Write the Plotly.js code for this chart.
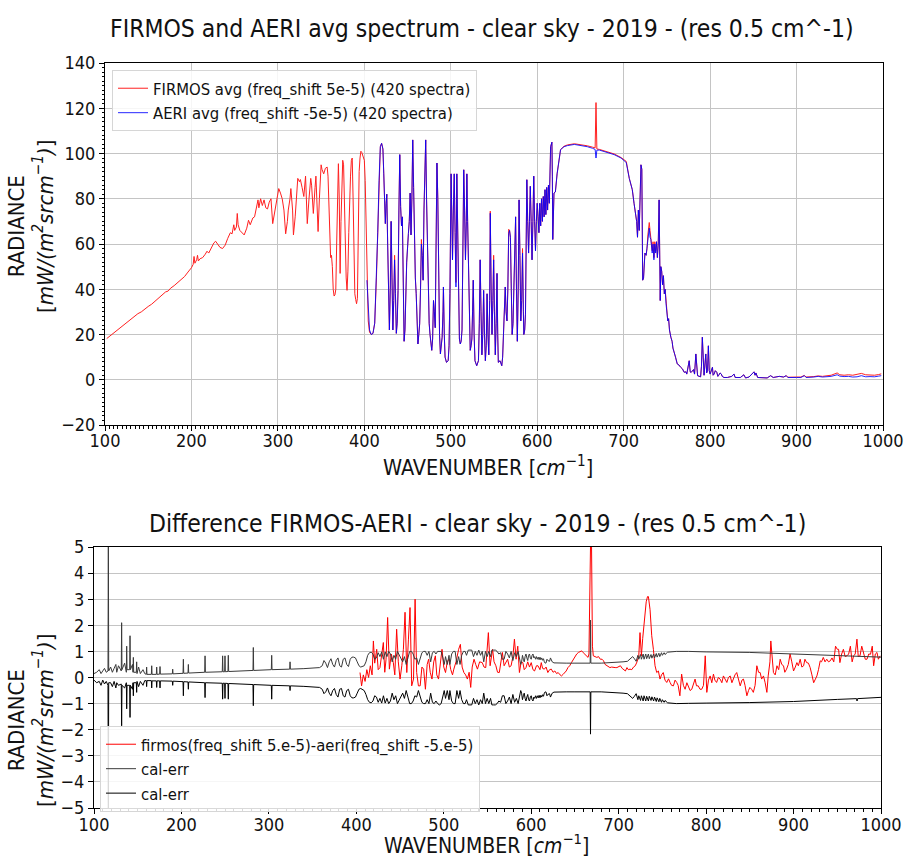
<!DOCTYPE html>
<html>
<head>
<meta charset="utf-8">
<script src="https://cdn.plot.ly/plotly-3.0.1.min.js"></script>
<style>
html,body{margin:0;padding:0;background:#fff;}
#chart{width:907px;height:860px;}
</style>
</head>
<body>
<div id="chart"></div>
<script>
// ---------- Top panel: FIRMOS 100-402 cm-1 ----------
const wnFirmosLow = [102,108,113,118,122,126,130,134,138,142,
146,150,154,158,162,166,170,173,176,180,
184,188,192,196,200,202,203,204,206,207,
208,210,213,216,218,220,223,226,228,230,
233,236,239,242,245,247,249,250,252,253,
254,256,258,261,264,266,268,271,273,275,
277,278,280,282,284,286,288,290,292,294,
296,298,300,301,303,305,307,309,311,312,
314,315,317,318,320,322,323,325,326,328,
330,332,333,334,336,338,339,341,343,344,
345,346.5,348,350,351,353,355,357,358,359,
360,361,362,363,364,365,366,367,368,369,
370,371,372,373,374,375,376,377,378,379,
380,381,382,383,384,385,386,387,388,389,
390,391,392,393,394,395,396,397,398,400,
401,402];
const radFirmosLow = [18.2,20.0,21.5,23.0,24.6,25.5,26.8,28.0,29.2,30.0,
31.3,32.4,33.4,34.8,36.0,37.4,38.8,39.2,40.5,41.6,
42.8,44.2,45.6,47.6,49.5,51.0,54.5,51.5,53.0,55.0,
52.5,53.5,54.0,55.5,56.8,56.0,58.5,60.5,61.2,60.0,
58.5,58.0,59.5,62.5,65.0,64.5,68.5,66.0,67.5,73.5,
68.5,66.0,65.0,64.0,67.0,70.5,68.5,71.5,72.0,76.0,
79.5,76.0,80.0,77.0,79.5,76.0,75.5,78.5,80.0,69.0,
74.0,79.0,82.0,84.5,82.5,80.0,75.0,64.5,70.0,75.0,
80.0,84.5,75.0,64.0,72.0,82.0,89.0,87.5,88.5,85.0,
81.0,90.0,80.0,69.0,80.0,89.0,86.0,73.5,85.0,90.0,
80.0,65.5,80.0,95.0,93.0,91.0,93.5,94.0,90.0,75.0,
60.0,54.0,55.0,50.0,40.0,37.0,37.5,40.0,60.0,85.0,
95.5,80.0,47.0,70.0,92.0,97.0,95.0,75.0,57.0,45.0,
39.5,48.0,65.0,81.0,90.0,97.0,98.0,80.0,45.5,38.0,
35.5,33.6,36.0,80.0,92.0,98.0,101.0,100.5,99.0,97.0,
88.0,67.7];

// ---------- Top panel: common wavenumbers 403-998 cm-1 ----------
const wnHigh = [403,404.5,406,408,410,412,414,415.5,417,418.5,
420,421.5,422.5,423.5,424.3,425.2,426,427,428,429,
430,431,432,433,434,435,436,437,438,439,
440,441,442,443,444,445,446,447,448,449,
451,452,453,454,455,456,457,458,459,460,
461,462,463,464,465,466,467,468,469,470,
471,472,473,474,475,476,477,478,479,480,
481,482,483,484,485,486,487,488,489,490,
491,491.5,492.5,493.4,495,497,498,499,500.4,501,
502,503,504,505,506,507,508,509,510,511,
512,513,514,515,516,517,518,518.6,519.5,520.5,
521.5,522.5,523.5,524.4,525.2,526,527,528,530,532,
533,534,535,536,537,538,539,540,541,542,
543,544,545,545.7,546.7,547.7,548.7,549.6,550.5,551.5,
552.5,553.5,554.3,555,557,559,560,561,562,563,
564,565,566,567,568,569,570,571,572,573,
574,575,576,577,578,579,580,581,582,583,
584,584.5,585.5,586.4,587.2,588,589,590,591,592,
593,594,595,596,597,598,599,600,601,602,
603,604,605,606,607,608,609,610,611,612,
613,614,615.5,617,617.5,618,619.4,621,623,625,
627,631,635,643,650,658,664,667,668,669,
672,681,689,697,703,706.5,710,712,714,715,
716,717,718,719,720,721,722,723,724.6,726,
727,728,729.6,730.5,731.5,733,734,735,736,737,
738,739,740,741,742.3,743,744,745,746,747,
748,749,750,751,752,753,754.6,756,757,758.5,
760,762,764,766,768,770,772,773,774,775.8,
777,778,780.8,782,783.5,784.5,785.5,789,790,791,
792,793,795,796,797,798,799,800,802.7,803.5,
804.6,806,807.7,809,810,811.5,813,814,816,820,
825,827.7,829,835,839,841,845,849,850.8,852,
853,855,860,866,870,873,880,885,888,890,
900,905,909,911,920,925,930,940,947,950,
955,960,965,970,975,980,985,990,995,998];

const radAeri = [44,30,22,20,20.5,25,45,65,88,103,
104.5,102,91,80,69,78,82,60,35,22,
40,70,45,22,35,53,38,20.5,25,39.5,
75,99.5,76.5,68,72,45,17,22,38,52,
64.7,70,82.5,64,80,106,85,56,45,38,
20,15.8,20,24.7,40,60,55,44,75,100,
106,79.5,55,35,25,20,15,13,18,35,
30,23,60,95.8,80,42.5,20,11.4,14,18.8,
30,41,20,10,7.7,8.4,15,38,91,70,
53,75,91,65,41,91,60,29,18,15.8,
17,22,60,92.8,75,53,70,91,70,45.5,
25,13,15,18,30,44,20,8.4,6.2,8.4,
25,53,30,11,20,39.5,20,8.4,15,38,
20,11,35,73.6,40,20,35,53,30,11,
25,47,20,7.7,8.4,6.2,10,20,30,41,
30,26,40,64.7,66,63,40,20,25,41,
55,72,40,17,40,79.5,55,26,35,56,
30,20,22,29,60,88.4,70,56,70,85.5,
70,53,70,90,70,57,70,78,72,65,
78,68,80,70,81,72,84,73,85,75,
86,78,103,105,90,62,82.5,83,91,97,
101.7,103,103.5,104,103.6,103,102.3,101.8,98,101.5,
101.5,100.5,99.5,98,96,89,84,78,73.6,70,
63,75,66,85,95,93,44,45,56,55,
58,62,67,63,62,56,60,53,60,56,
61,54,60,79.5,35,50,48,42,46,38,
40,33.6,30,26,27,22,18.8,17,14,11.4,
10,7,6.5,5.5,4.8,3.3,3.5,2.5,4.5,8.4,
3.5,3.2,4.5,2.5,11.4,3.5,1.8,1.3,6,18.8,
5,2,11.4,3,4,15,4,2.5,5.5,2,
2.5,4,3.3,1.5,2,3,2.5,1.5,1,1,
1.5,2.5,1,1,2.2,0.8,1.2,2.8,3.5,2,
3,1,1,0.8,1.8,1,1.5,1.2,1.8,1,
1,1,1.8,1,1.2,1.5,1.2,1.5,2.2,1.6,
1.4,1.5,1.2,1.3,1.8,1.3,1.4,1.3,1.6,1.8];

const radFirmosHigh = [40,26,21,20,20.5,25,45,65,88,103,
104.5,102,91,80,69,78,82,60,35,22,
40,70,45,22,35,55,38,20.5,25,39.5,
75,99.5,76.5,68,72,45,17,22,38,52,
64.7,70,82.5,64,80,106,85,57,45,38,
20,15.8,20,24.7,40,62,55,44,75,100,
106,79.5,55,35,25,20,15,13,18,35,
30,23,60,95.8,80,42.5,20,11.4,14,18.8,
30,41,20,10,7.7,8.4,15,38,91,70,
53,75,91,65,43,91,60,29,18,15.8,
17,22,60,92.8,75,53,70,91,70,45.5,
25,13,15,18,30,44,20,8.4,6.2,8.4,
25,53,30,11,20,39.5,20,8.4,15,38,
20,11,35,74.5,40,20,35,55,30,11,
25,47,20,7.7,8.4,6.2,10,20,30,41,
30,26,40,66.5,66,63,40,20,25,41,
55,72,40,17,40,79.5,55,26,35,58,
30,20,22,29,60,88.4,70,56,70,85.5,
70,53,70,90,70,57,70,78,72,65,
78,68,80,70,81,72,84,73,85,75,
86,78,103,105,90,62,82.5,83,91,97,
101.7,103.2,103.8,104.3,104,103.4,102.8,102.5,122.5,102,
101.8,100.8,99.8,98.2,96.5,89,84,78,73.6,70,
63,75,66,85,95,93,44,45,56,55,
58,64,69.5,66,63,57,61,54,61,57,
61,54,60,79.5,35,50,48,42,46,38,
40,33.6,30,26,27,22,18.8,17,14,11.4,
10,7,6.5,5.5,4.8,3.3,3.5,2.5,4.5,8.4,
3.5,3.2,4.5,2.5,11.4,3.5,1.8,1.3,6,18.8,
5,2,11.4,3,4,15,4,2.5,5.5,2,
2.5,4,3.3,1.5,2,3,2.5,1.5,1,1,
1.5,2.5,1,1,2.2,0.8,1.2,2.8,3.5,2,
3,1,1,0.8,1.8,1,1.5,1.2,1.8,1.1,
1.2,1.2,1.9,1.2,1.4,1.7,1.5,2.0,3.0,2.2,
2.0,2.2,2.0,2.5,2.8,2.2,2.0,2.0,2.3,2.6];

// ---------- Bottom panel: calibration error envelope (upper / lower) ----------
const wnCal = [100,103,106,108,110,112,114,116,116.4,116.8,
119,121,123,125,126,128,131.2,131.6,132,135,
137,137.4,137.8,140.8,141.2,141.6,144,144.6,145,145.4,
148.4,148.8,149.2,151,153,156,158,159.8,160.2,160.6,
165.6,166,166.4,171.3,171.7,172.1,175.1,175.5,175.9,189.6,
190,190.4,201.8,202.2,202.6,207.5,207.9,208.3,226.6,227,
227.4,246.7,247.1,247.5,249.4,249.8,250.2,253.2,253.6,254,
281.8,282.2,282.6,302.8,303.2,303.6,323.8,324.2,324.6,340,
350,358,361,363,365,367,369,371,373,375,377,
379,381,383,385,387,389,391,393,395,397,
399,401,403,405,407,409,411,413,415,417,
419,421,423,425,427,429,431,433,435,437,
439,441,443,445,447,449,451,453,455,457,
459,461,463,465,467,469,471,473,475,477,
479,481,483,485,487,489,491,493,495,497,
499,500.5,502,504,506,507,509,511,513,515,
517,518.6,520.5,522.5,524.4,526,528,530,532,534,
536,538,540,542,544,545.7,547.7,549.6,551.5,553.5,
555,557,559,561,563,565,567,569,571,573,
575,577,579,581,583,585,587,588,589,590,
591,592,593,594,595,596,597,598,599,600,
601,602,603,604,605,606,607,608,609,610,
611,612,613,614,615,616,617,618,619,620,
621,622,624,626,630,640,650,660,667.4,667.8,
668.2,680,690,700,705,710,713,716,718,720,
722,723,725,726,728,729,731,732,734,735,
737,738,740,741,743,744,746,747,749,750,
752,753,756,760,766,780,790,800,850,900,
950,972,972.6,973.2,1000];

const calErrUp = [0.15,0.2,0.3,0.15,0.25,0.35,0.2,0.25,5.6,0.25,
0.4,0.2,0.35,0.5,0.2,0.45,0.25,2.1,0.3,0.55,
0.2,1.2,0.3,0.3,1.6,0.3,0.5,0.2,0.77,0.2,
0.2,0.6,0.15,0.4,0.15,0.3,0.15,0.12,0.4,0.12,
0.12,0.45,0.12,0.12,0.4,0.12,0.13,0.42,0.13,0.14,
0.32,0.14,0.16,0.7,0.16,0.17,0.5,0.17,0.2,0.83,
0.2,0.22,0.83,0.22,0.22,0.83,0.22,0.23,0.85,0.23,
0.27,1.15,0.27,0.3,0.85,0.3,0.32,0.6,0.32,0.34,
0.36,0.38,0.45,0.65,0.55,0.38,0.6,0.72,0.5,0.4,0.65,
0.75,0.45,0.4,0.7,0.75,0.5,0.42,0.7,0.78,0.78,
0.75,0.6,0.45,0.4,0.42,0.45,0.6,0.85,0.95,0.97,
0.9,0.7,0.75,0.95,0.8,0.98,0.7,0.98,0.8,1.0,
0.9,0.6,0.85,0.7,1.0,0.85,0.75,0.6,0.8,0.5,
0.75,1.0,1.0,0.9,0.7,0.75,0.5,0.7,0.95,1.0,
1.0,0.85,1.0,0.6,0.95,1.0,0.9,1.0,1.0,1.0,
0.75,0.5,0.8,0.5,0.85,0.5,0.9,1.0,1.0,0.5,
0.8,0.5,0.85,1.0,1.0,0.85,1.05,1.05,1.05,0.8,
1.0,0.85,1.05,0.85,1.0,0.6,1.0,0.8,1.0,0.8,
1.05,1.05,1.05,1.0,0.9,0.95,0.7,0.7,1.0,0.9,
0.75,1.0,0.65,0.95,0.8,1.0,0.7,0.5,0.6,0.85,
0.7,0.6,0.8,0.9,0.75,0.65,0.85,0.9,0.75,0.7,
0.85,0.9,0.75,0.8,0.7,0.8,0.7,0.78,0.68,0.78,
0.68,0.75,0.66,0.72,0.6,0.55,0.56,0.7,0.65,0.62,
0.62,0.75,0.6,0.56,0.55,0.55,0.55,0.55,0.55,2.2,
0.55,0.55,0.56,0.58,0.6,0.62,0.7,0.8,0.72,0.62,
0.85,0.7,0.88,0.7,0.9,0.7,0.9,0.72,0.9,0.72,
0.88,0.74,0.9,0.75,0.92,0.78,0.93,0.8,0.95,0.85,
0.95,0.88,0.97,0.98,1.0,1.0,0.99,0.98,0.96,0.9,
0.84,0.81,0.81,0.81,0.78];

const calErrLow = [-0.1,-0.2,-0.15,-0.3,-0.1,-0.25,-0.15,-0.3,-5.6,-0.2,
-0.2,-0.35,-0.15,-0.4,-0.2,-0.3,-0.25,-1.85,-0.3,-0.4,
-0.2,-1.2,-0.3,-0.3,-1.53,-0.3,-0.45,-0.2,-0.7,-0.2,
-0.2,-0.57,-0.15,-0.35,-0.15,-0.3,-0.12,-0.12,-0.35,-0.12,
-0.12,-0.4,-0.13,-0.13,-0.38,-0.13,-0.13,-0.4,-0.13,-0.14,
-0.3,-0.14,-0.16,-0.7,-0.16,-0.17,-0.45,-0.17,-0.2,-0.77,
-0.2,-0.22,-0.83,-0.22,-0.22,-0.8,-0.22,-0.23,-0.83,-0.23,
-0.27,-1.08,-0.27,-0.3,-0.83,-0.3,-0.32,-0.5,-0.32,-0.34,
-0.36,-0.38,-0.45,-0.62,-0.55,-0.4,-0.6,-0.7,-0.5,-0.42,-0.65,
-0.75,-0.45,-0.42,-0.7,-0.75,-0.5,-0.45,-0.7,-0.78,-0.78,
-0.75,-0.6,-0.45,-0.42,-0.45,-0.5,-0.65,-0.85,-0.95,-0.97,
-0.9,-0.7,-0.75,-0.95,-0.8,-0.98,-0.7,-0.98,-0.8,-1.0,
-0.9,-0.6,-0.85,-0.7,-1.0,-0.85,-0.75,-0.6,-0.8,-0.5,
-0.75,-1.0,-1.0,-0.9,-0.7,-0.75,-0.5,-0.7,-0.95,-1.0,
-1.0,-0.85,-1.0,-0.6,-0.95,-1.0,-0.9,-1.0,-1.05,-1.0,
-0.75,-0.5,-0.8,-0.5,-0.85,-0.5,-0.9,-1.0,-1.0,-0.5,
-0.8,-0.5,-0.85,-1.0,-1.0,-0.85,-1.05,-1.05,-1.05,-0.8,
-1.0,-0.85,-1.05,-0.85,-1.0,-0.6,-1.0,-0.8,-1.0,-0.8,
-1.05,-1.05,-1.05,-1.0,-0.9,-0.95,-0.7,-0.7,-1.0,-0.9,
-0.75,-1.0,-0.65,-0.95,-0.8,-1.0,-0.7,-0.5,-0.6,-0.85,
-0.7,-0.6,-0.8,-0.9,-0.75,-0.65,-0.85,-0.9,-0.75,-0.7,
-0.85,-0.9,-0.75,-0.8,-0.7,-0.8,-0.7,-0.78,-0.68,-0.78,
-0.68,-0.75,-0.66,-0.72,-0.6,-0.55,-0.56,-0.7,-0.65,-0.62,
-0.62,-0.75,-0.6,-0.56,-0.55,-0.55,-0.55,-0.55,-0.55,-2.17,
-0.55,-0.55,-0.56,-0.58,-0.6,-0.62,-0.72,-0.8,-0.72,-0.62,
-0.85,-0.7,-0.88,-0.7,-0.9,-0.7,-0.9,-0.72,-0.9,-0.72,
-0.88,-0.74,-0.9,-0.75,-0.92,-0.78,-0.93,-0.8,-0.95,-0.85,
-0.95,-0.88,-0.97,-0.98,-1.0,-0.99,-0.98,-0.98,-0.96,-0.92,
-0.84,-0.81,-0.9,-0.81,-0.76];

// ---------- Bottom panel: FIRMOS - AERI difference ----------
const wnDiff = [404.2,406,408,410,412,414,416,418,419.5,421,
423.3,425,427,429,430.9,432.5,434,435.8,437.8,440,
442.3,444,446.1,448,450,452,453.8,455.7,457.7,459.6,
461.4,463.3,465.4,467.2,469,471,473,475,477,479,
481,482.7,484.5,486.5,488.5,490.4,492,494,496,498,
500,502,504,505.8,508,510,511.5,514,517,519,
521,523,525,527,529,530.8,532.5,534.6,536.5,538.5,
541,544,546,548,551,553,555.8,557.5,559.6,561.5,
563.5,565,567,569,571,573,575,577,579,580.8,
582.7,584.6,586.5,588.5,590.4,592,594,596,598,600,
602,603.8,606,607.7,610,611.5,613,615,617,619,
621,623,625,627,629,630.8,633,634.6,636.5,638.5,
640,642,644,646,648,650,652,654,656,657.7,
659.5,661.5,663,665,666,667,668,669,670,671,
673,675,677,679,681,682.7,684.5,686.5,688,690,
692,694,696,698,700,702,704,706,707.7,709.5,
711,713,715,717,719,721,723,724.4,726,727.5,
729,730,731.5,733,734,735.9,737.8,739.7,741.6,743.5,
745.4,747.3,749,751,753,755,757,758.8,760.5,762.6,
764.5,766.4,768,770,772,774,776,778,779.8,781.7,
783.6,785.5,787.4,789,791,793,795,797,799,800.8,
802.7,804.6,806.5,808.4,810,812,814,816,818,819.8,
822,823.7,825.5,827.5,829.5,831,833,835,837,839,
841,842.7,844.5,846.6,848.5,850,852,854,856,858,
860,861.8,863.5,865.6,867.5,869.5,871,873,874,875.5,
877,879,881,883,884.7,886.5,888.5,890,892,894,
896,898,900,902,903.8,905.5,907.6,909.5,911.5,913,
915,917,919,921,923,925,926.7,928.5,930.5,932,
934,936,938,940,942,944,946,948,950,951.5,
953,955,957,959,961,963,965,967,968.7,970.5,
972.5,974,976,978,980,982,984,986,988,990,
991.6,993.5,995.4,997,999];

const diffFirmosAeri = [0.19,-0.32,0.1,-0.15,0.3,0,0.45,0.1,1.4,0.55,
1.08,0.3,0.38,0.8,1.34,0.2,0.7,2.3,0.32,0.9,
0.57,0.1,1.85,0.6,-0.06,0.45,1.08,2.5,0.19,1.47,
2.68,-0.32,-0.06,3.0,0.19,-0.32,-0.32,0.4,0.32,-0.45,
0.5,0.7,0.2,-0.06,0.6,0.83,0.1,-0.06,0.5,1.08,
0.4,0.19,0.6,0.7,0.3,0.1,0.32,0.6,1.08,1.27,
0.4,0.19,0.1,-0.06,0.2,-0.38,0.4,0.7,0.5,0.32,
0.6,0.57,0.4,0.38,1.72,0.45,1.08,0.6,0.45,0.2,
0.19,0.5,0.96,0.45,0.6,0.7,0.4,0.45,0.8,1.47,
0.7,1.2,0.19,0.6,0.57,0.3,0.38,0.6,0.4,0.57,
0.3,0.25,0.45,0.45,0.3,0.57,0.35,0.32,0.4,0.19,
0.3,0.32,0.2,0.25,0.15,0.19,0.1,0.06,0.12,0.19,
0.25,0.38,0.45,0.57,0.68,0.83,0.9,0.96,1.0,1.02,
0.95,0.89,0.85,0.77,0.9,5.5,5.5,5.0,1.2,0.83,
0.8,0.77,0.8,0.7,0.7,0.64,0.5,0.45,0.42,0.38,
0.4,0.38,0.38,0.38,0.42,0.45,0.35,0.3,0.25,0.38,
0.3,0.32,0.3,0.4,0.45,0.6,0.83,1.72,0.83,1.5,
2.0,2.6,2.9,3.1,3.1,2.6,1.6,1.08,0.45,0.19,
0.25,-0.06,0.1,0.19,-0.1,-0.19,-0.05,-0.19,-0.3,-0.32,
-0.1,-0.19,-0.3,-0.7,0.13,-0.3,-0.45,-0.2,-0.32,-0.5,
-0.45,-0.2,-0.06,-0.32,-0.32,-0.45,-0.45,-0.3,0.83,-0.57,
-0.1,0.06,-0.2,0.13,-0.1,-0.19,0,-0.06,-0.2,0.06,
-0.1,-0.19,0,0.06,-0.2,-0.06,0.1,0.19,-0.1,-0.32,
-0.1,-0.06,-0.3,-0.7,-0.5,-0.38,-0.45,-0.57,-0.3,0.45,
0.2,0.19,-0.06,0.06,-0.2,-0.57,0.06,0.6,1.4,0.8,
0.19,0.1,0.45,0.3,0.7,0.5,0.45,0.2,0.32,0.5,
0.9,0.6,0.25,0.4,0.57,0.45,0.7,0.4,0.45,0.7,
0.57,0.55,0.38,0.1,-0.2,-0.06,0.06,0.3,0.64,0.6,
0.77,0.6,0.7,0.6,0.64,0.75,0.6,1.2,1.08,1.08,
0.57,0.9,1.08,0.8,0.83,0.9,1.2,0.6,0.83,0.9,
1.47,0.8,0.83,1.2,0.96,0.7,0.7,0.9,0.89,1.2,
0.45,0.9,0.96,0.7,0.83];

// ---------- Tick values ----------
const topYTicks = [-20,0,20,40,60,80,100,120,140];
const botYTicks = [-5,-4,-3,-2,-1,0,1,2,3,4,5];
const xTicks = [100,200,300,400,500,600,700,800,900,1000];

const FONT = 'DejaVu Sans Condensed, Liberation Sans Narrow, DejaVu Sans, sans-serif';
const W = 907, H = 860;
const px = v => v / W;
const py = v => 1 - v / H;

const traces = [
  {x: wnFirmosLow.concat(wnHigh), y: radFirmosLow.concat(radFirmosHigh), type: 'scatter', mode: 'lines',
   name: 'FIRMOS avg (freq_shift 5e-5) (420 spectra)', line: {color: '#ff2020', width: 1},
   xaxis: 'x', yaxis: 'y', legend: 'legend'},
  {x: wnHigh, y: radAeri, type: 'scatter', mode: 'lines',
   name: 'AERI avg (freq_shift -5e-5) (420 spectra)', line: {color: 'rgba(0,0,255,0.85)', width: 1},
   xaxis: 'x', yaxis: 'y', legend: 'legend'},
  {x: wnDiff, y: diffFirmosAeri, type: 'scatter', mode: 'lines',
   name: 'firmos(freq_shift 5.e-5)-aeri(freq_shift -5.e-5)', line: {color: '#ff0000', width: 1},
   xaxis: 'x2', yaxis: 'y2', legend: 'legend2'},
  {x: wnCal, y: calErrUp, type: 'scatter', mode: 'lines', name: 'cal-err',
   line: {color: '#3a3a3a', width: 1}, xaxis: 'x2', yaxis: 'y2', legend: 'legend2'},
  {x: wnCal, y: calErrLow, type: 'scatter', mode: 'lines', name: 'cal-err',
   line: {color: '#000000', width: 1}, xaxis: 'x2', yaxis: 'y2', legend: 'legend2'}
];

const axisCommon = {
  showline: true, linecolor: '#000', linewidth: 1, mirror: true,
  ticks: 'outside', ticklen: 5, tickcolor: '#000', tickwidth: 1,
  tickfont: {family: FONT, size: 18, color: '#111'},
  zeroline: false, gridcolor: '#c4c4c4', gridwidth: 1
};

const layout = {
  width: W, height: H,
  margin: {l: 0, r: 0, t: 0, b: 0},
  paper_bgcolor: '#fff', plot_bgcolor: '#fff',
  font: {family: FONT, color: '#111'},
  xaxis: Object.assign({}, axisCommon, {
    domain: [px(105), px(883)], range: [100, 1000], tickmode: 'array', tickvals: xTicks,
    showgrid: true, anchor: 'y', ticklabelstandoff: -6,
    minor: {dtick: 5, tick0: 100, ticks: 'outside', ticklen: 2.5, tickcolor: '#000', showgrid: false}
  }),
  yaxis: Object.assign({}, axisCommon, {
    domain: [py(425), py(63)], range: [-20, 140], tickmode: 'array', tickvals: topYTicks,
    showgrid: true, anchor: 'x',
    minor: {dtick: 2, tick0: 0, ticks: 'outside', ticklen: 2.5, tickcolor: '#000', showgrid: false}
  }),
  xaxis2: Object.assign({}, axisCommon, {
    domain: [px(94), px(881)], range: [100, 1000], tickmode: 'array', tickvals: xTicks,
    showgrid: false, anchor: 'y2', ticklabelstandoff: -5,
    minor: {dtick: 10, tick0: 100, ticks: 'outside', ticklen: 2.5, tickcolor: '#000', showgrid: false}
  }),
  yaxis2: Object.assign({}, axisCommon, {
    domain: [py(808), py(547)], range: [-5, 5], tickmode: 'array', tickvals: botYTicks,
    showgrid: true, anchor: 'x2'
  }),
  showlegend: true,
  legend: {x: px(112), y: py(70), xanchor: 'left', yanchor: 'top',
    bgcolor: 'rgba(255,255,255,0.85)', bordercolor: '#d6d6d6', borderwidth: 1,
    font: {family: FONT, size: 16.5, color: '#111'}, tracegroupgap: 0},
  legend2: {x: px(100), y: py(726), xanchor: 'left', yanchor: 'top',
    bgcolor: 'rgba(255,255,255,0.85)', bordercolor: '#d6d6d6', borderwidth: 1,
    font: {family: FONT, size: 16.5, color: '#111'}, tracegroupgap: 0},
  annotations: [
    {text: 'FIRMOS and AERI avg spectrum - clear sky - 2019 - (res 0.5 cm^-1)', x: px(482), y: py(28),
     xref: 'paper', yref: 'paper', xanchor: 'center', yanchor: 'middle', showarrow: false,
     font: {family: FONT, size: 24.5, color: '#111'}},
    {text: 'Difference FIRMOS-AERI - clear sky - 2019 - (res 0.5 cm^-1)', x: px(477), y: py(523),
     xref: 'paper', yref: 'paper', xanchor: 'center', yanchor: 'middle', showarrow: false,
     font: {family: FONT, size: 24.5, color: '#111'}},
    {text: 'WAVENUMBER [<i>cm</i><sup>−1</sup>]', x: px(488), y: py(466),
     xref: 'paper', yref: 'paper', xanchor: 'center', yanchor: 'middle', showarrow: false,
     font: {family: FONT, size: 21.5, color: '#111'}},
    {text: 'WAVENUMBER [<i>cm</i><sup>−1</sup>]', x: px(486), y: py(844),
     xref: 'paper', yref: 'paper', xanchor: 'center', yanchor: 'middle', showarrow: false,
     font: {family: FONT, size: 21, color: '#111'}},
    {text: 'RADIANCE<br>[<i>mW/(m<sup>2</sup>srcm<sup>−1</sup>)</i>]', x: px(31), y: py(226), textangle: -90,
     xref: 'paper', yref: 'paper', xanchor: 'center', yanchor: 'middle', showarrow: false,
     font: {family: FONT, size: 22, color: '#111'}},
    {text: 'RADIANCE<br>[<i>mW/(m<sup>2</sup>srcm<sup>−1</sup>)</i>]', x: px(31), y: py(720), textangle: -90,
     xref: 'paper', yref: 'paper', xanchor: 'center', yanchor: 'middle', showarrow: false,
     font: {family: FONT, size: 22, color: '#111'}}
  ]
};

Plotly.newPlot('chart', traces, layout, {displayModeBar: false, staticPlot: true});
</script>
</body>
</html>
